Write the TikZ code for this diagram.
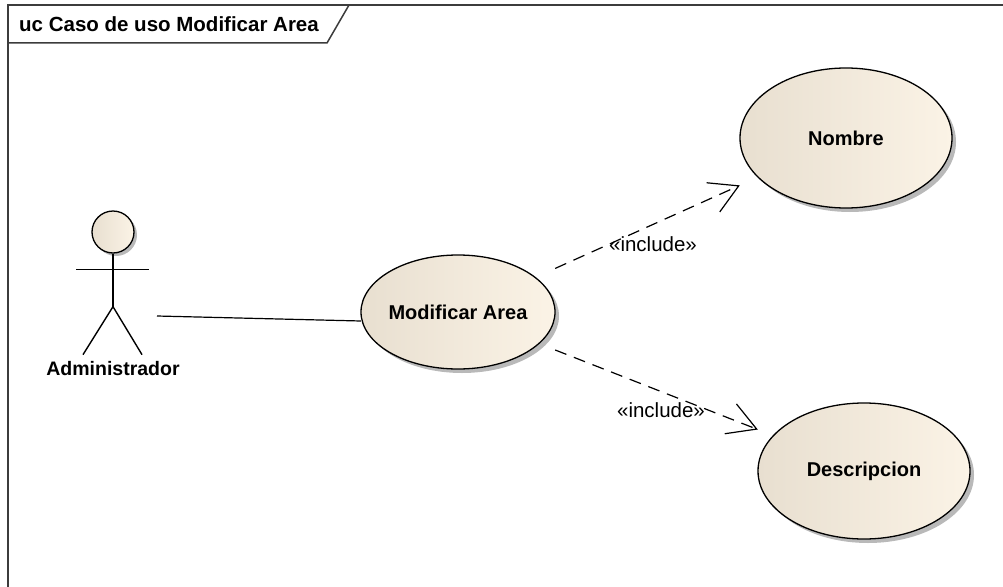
\documentclass[tikz,border=0pt]{standalone}
\usepackage{fontspec}
\setmainfont{Liberation Sans}
\usetikzlibrary{arrows.meta,backgrounds}
\definecolor{ucleft}{HTML}{E8DFD0}
\definecolor{ucright}{HTML}{FBF3E6}
\definecolor{ucshadow}{HTML}{B9B9B9}
\definecolor{framegray}{HTML}{3C3C3C}
\tikzset{
  usecase/.style={rectangle, inner sep=0pt, font=\fontsize{20}{23}\selectfont\bfseries},
  ucshape/.style={left color=ucleft, right color=ucright, draw=black, line width=1.3pt},
  ucshade/.style={fill=ucshadow},
  actorline/.style={line width=1.4pt},
  include/.style={dash pattern=on 12pt off 8pt, line width=1.2pt,
    -{Straight Barb[length=28pt,width=32pt,line width=1.2pt]}},
  inclabel/.style={inner sep=0pt, font=\fontsize{20.5}{23}\selectfont}
}
\begin{document}
\begin{tikzpicture}[x=1pt,y=-1pt]
	\useasboundingbox (0,0) rectangle (1003,586);
	% frame and title tab
	\draw[framegray,line width=1.5pt] (1010,5) -- (8,5) -- (8,600);
	\draw[framegray,line width=1.5pt] (8,43) -- (327,43) -- (349,5);
	\node[anchor=west, inner sep=0pt, font=\fontsize{20.5}{23}\selectfont\bfseries] (title) at (19,24) {uc Caso de uso Modificar Area};

	% actor
	\node[circle, ucshape, minimum size=42pt, inner sep=0pt] (head) at (113,232) {};
	\draw[actorline] (head.south) -- ++(0,53) coordinate (hip);
	\draw[actorline] (head.south) ++(-37,16) -- ++(73,0);
	\draw[actorline] (hip) -- ++(-30,48);
	\draw[actorline] (hip) -- ++(29,48);
	\node[inner sep=0pt, font=\fontsize{19.5}{22}\selectfont\bfseries] (admin) at (113,369) {Administrador};
	\coordinate (adminend) at (157,316);

	% use cases
	\node[usecase, minimum width=194pt, minimum height=114pt] (modificar) at (458,312) {Modificar Area};
	\node[usecase, minimum width=212pt, minimum height=140pt] (nombre) at (846,138) {Nombre};
	\node[usecase, minimum width=212pt, minimum height=136pt] (descripcion) at (864,471) {Descripcion};
	\begin{pgfonlayer}{background}
		\fill[ucshade] ([shift={(3,3)}]head.center) circle (21);
		\fill[ucshade] ([shift={(4,4)}]modificar.center) ellipse (97 and 57);
		\shade[ucshape] (modificar.center) ellipse (97 and 57);
		\fill[ucshade] ([shift={(4,4)}]nombre.center) ellipse (106 and 70);
		\shade[ucshape] (nombre.center) ellipse (106 and 70);
		\fill[ucshade] ([shift={(4,4)}]descripcion.center) ellipse (106 and 68);
		\shade[ucshape] (descripcion.center) ellipse (106 and 68);
	\end{pgfonlayer}

	% connectors
	\draw[line width=1.2pt] (adminend) -- ([yshift=-9pt]modificar.west);
	\draw[include] (modificar) -- (nombre);
	\draw[include] (modificar) -- (descripcion);
	\node[inclabel] (inc1) at (653,244) {«include»};
	\node[inclabel] (inc2) at (661,410) {«include»};
\end{tikzpicture}
\end{document}
